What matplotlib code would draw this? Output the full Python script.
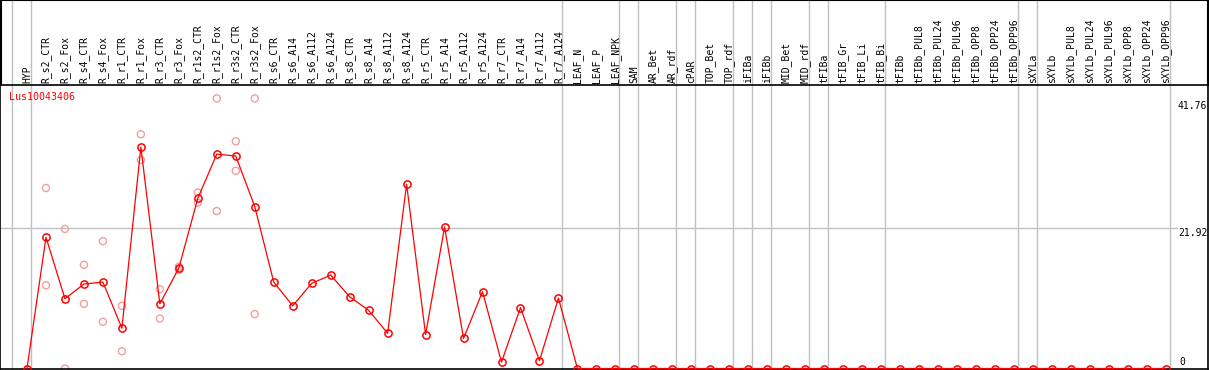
import matplotlib
matplotlib.use("Agg")
import matplotlib.pyplot as plt
from matplotlib.lines import Line2D

# sample labels (column order)
labels = ["HYP", "R_s2_CTR", "R_s2_Fox", "R_s4_CTR", "R_s4_Fox", "R_r1_CTR", "R_r1_Fox",
          "R_r3_CTR", "R_r3_Fox", "R_r1s2_CTR", "R_r1s2_Fox", "R_r3s2_CTR", "R_r3s2_Fox",
          "R_s6_CTR", "R_s6_A14", "R_s6_A112", "R_s6_A124", "R_s8_CTR", "R_s8_A14",
          "R_s8_A112", "R_s8_A124", "R_r5_CTR", "R_r5_A14", "R_r5_A112", "R_r5_A124",
          "R_r7_CTR", "R_r7_A14", "R_r7_A112", "R_r7_A124", "LEAF_N", "LEAF_P", "LEAF_NPK",
          "SAM", "AR_Bet", "AR_rdf", "cPAR", "TOP_Bet", "TOP_rdf", "iFIBa", "iFIBb",
          "MID_Bet", "MID_rdf", "tFIBa", "tFIB_Gr", "tFIB_Li", "tFIB_Bi", "tFIBb",
          "tFIBb_PUL8", "tFIBb_PUL24", "tFIBb_PUL96", "tFIBb_OPP8", "tFIBb_OPP24",
          "tFIBb_OPP96", "sXYLa", "sXYLb", "sXYLb_PUL8", "sXYLb_PUL24", "sXYLb_PUL96",
          "sXYLb_OPP8", "sXYLb_OPP24", "sXYLb_OPP96"]

# mean expression per sample
means = [0, 20.5, 10.9, 13.2, 13.5, 6.3, 34.6, 10.1, 15.7, 26.6, 33.5, 33.2, 25.3,
         13.5, 9.8, 13.3, 14.6, 11.2, 9.1, 5.5, 28.8, 5.3, 22.1, 4.7, 12.0, 1.0, 9.5,
         1.2, 11.0] + [0] * 32

# replicate values (column index, value)
rep_cols = [1, 1, 2, 2, 3, 3, 4, 4, 5, 5, 6, 6, 7, 7, 8, 8, 9, 9, 10, 10, 11, 11, 12, 12]
rep_vals = [28.2, 13.0, 21.8, 0.0, 16.2, 10.1, 19.9, 7.3, 9.8, 2.7, 36.6, 32.6,
            12.4, 7.8, 15.9, 15.4, 27.5, 25.9, 42.2, 24.6, 35.5, 30.9, 42.2, 8.5]

# last column of each sample group (separator drawn right after it)
group_ends = [-1, 0, 28, 31, 32, 34, 35, 37, 38, 39, 41, 42, 45, 52, 53, 60]

gene = "Lus10043406"
y_ticks = [41.76, 21.92, 0]

W, H = 1209, 370
fig = plt.figure(figsize=(W / 100, H / 100), dpi=100)

# pixel layout
x0_px, dx_px = 27, 18.98
top_px, bot_px, zero_px, ppu = 85, 369, 368.5, 6.40
ax = fig.add_axes([0, (H - bot_px) / H, 1208 / W, (bot_px - top_px) / H])
ax.set_xlim(-x0_px / dx_px, (1208 - x0_px) / dx_px)
ax.set_ylim(-(bot_px - zero_px) / ppu, (zero_px - top_px) / ppu)
ax.set_xticks([])
ax.set_yticks([])
for s in ax.spines.values():
    s.set_color("black")
    s.set_linewidth(1.2)

mono = "DejaVu Sans Mono"
ext = bot_px / (bot_px - top_px)  # axvline reaching to the figure top

for g in group_ends:
    ax.axvline(g + 0.2, ymin=0, ymax=ext, color="#c0c0c0", lw=1, clip_on=False, zorder=0)

ax.plot([ax.get_xlim()[0], (1177 - x0_px) / dx_px], [y_ticks[1], y_ticks[1]],
        color="#c0c0c0", lw=1, zorder=0)

xs = list(range(len(labels)))
ax.scatter(rep_cols, rep_vals, s=26, facecolors="none", edgecolors="#f0a0a0",
           linewidths=1, zorder=2, clip_on=False)
ax.plot(xs, means, color="red", lw=0.9, marker="o", ms=5.2, mfc="none", mec="red",
        mew=1.1, zorder=3, clip_on=False)

# header labels
lab_y = 1 + 2 / (bot_px - top_px)
for i, name in enumerate(labels):
    ax.text(i, lab_y, name, rotation=90, ha="center", va="bottom", fontsize=7,
            family=mono, transform=ax.get_xaxis_transform(), clip_on=False)

# value labels on the right
tx = (1178 - x0_px) / dx_px
ax.text(tx, y_ticks[0], "41.76", ha="left", va="top", fontsize=7, family=mono)
ax.text(tx, y_ticks[1], "21.92", ha="left", va="top", fontsize=7, family=mono)
ax.text(tx + 0.05, 0.3, "0", ha="left", va="bottom", fontsize=7, family=mono)

ax.text(9 / W, (H - 97.5) / H, gene, color="red", fontsize=7.2, family=mono,
        ha="left", va="center", transform=fig.transFigure)

# outer frame of the header block
for xy in ([[0, 1], [1, 1]], [[0.5 / W, 0.5 / W], [(H - top_px) / H, 1]],
           [[1208 / W, 1208 / W], [(H - top_px) / H, 1]]):
    fig.add_artist(Line2D(xy[0], xy[1], color="black", lw=1.5))

fig.savefig("out.png", dpi=100)
